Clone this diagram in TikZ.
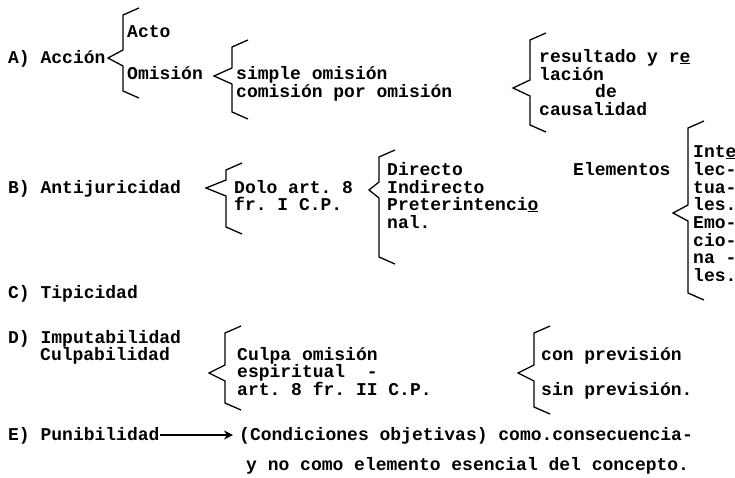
\documentclass[tikz,border=0pt]{standalone}
\usepackage{fontspec}
\setmonofont{Liberation Mono}
\usepackage{tikz}
\usetikzlibrary{arrows.meta}

\tikzset{llave/.style={draw=black, line width=1.3pt, line join=miter}}
% brace: x of the bar, top, bottom, x and y of the point
\newcommand{\llave}[5]{\draw[llave] (#1+16,#2-7) -- (#1,#2) -- (#1,#5-8) -- (#4,#5) -- (#1,#5+8) -- (#1,#3) -- (#1+16,#3+7);}

\begin{document}
\begin{tikzpicture}[x=1pt, y=-1pt]
				\useasboundingbox (0,0) rectangle (735,477);
				\begin{scope}[every node/.style = {anchor=base west, inner sep=0pt,
					font=\ttfamily\bfseries\fontsize{18}{18}\selectfont}]
					\node (accion) at (8,63) {A) Acción};
					\node (acto) at (127,37) {Acto};
					\node (omision) at (127,79) {Omisión};
					\node (simple) at (236,79) {simple omisión};
					\node (comision) at (236,97) {comisión por omisión};
					\node (resultado) at (539,62) {resultado y r\underline{e}};
					\node (relacion) at (539,80) {lación};
					\node (de) at (595,97) {de};
					\node (causalidad) at (539,115) {causalidad};
					\node (anti) at (8,193) {B) Antijuricidad};
					\node (dolo) at (234,193) {Dolo art. 8};
					\node (fr) at (234,210) {fr. I C.P.};
					\node (directo) at (387,175) {Directo};
					\node (indirecto) at (387,193) {Indirecto};
					\node (preter) at (387,210) {Preterintenci\underline{o}};
					\node (nal) at (387,228) {nal.};
					\node (elementos) at (573,175) {Elementos};
					\node (inte) at (693,157) {Int\underline{e}};
					\node (lec) at (693,175) {lec-};
					\node (tua) at (693,193) {tua-};
					\node (les) at (693,210) {les.};
					\node (emo) at (693,228) {Emo-};
					\node (cio) at (693,246) {cio-};
					\node (na) at (693,263) {na -};
					\node (lesb) at (693,281) {les.};
					\node (tipicidad) at (8,298) {C) Tipicidad};
					\node (imput) at (8,343) {D) Imputabilidad};
					\node (culpab) at (40,360) {Culpabilidad};
					\node (culpa) at (237,360) {Culpa omisión};
					\node (espiritual) at (237,377) {espiritual\ \ -};
					\node (art) at (237,395) {art. 8 fr. II C.P.};
					\node (con) at (541,360) {con previsión};
					\node (sin) at (541,395) {sin previsión.};
					\node (puni) at (8,440) {E) Punibilidad};
					\node (cond) at (239,440) {(Condiciones objetivas) como.consecuencia-};
					\node (concepto) at (246,470) {y no como elemento esencial del concepto.};
				\end{scope}
				\llave{123}{15}{91}{108}{58}
				\llave{232}{47}{112}{214}{76}
				\llave{530}{40}{125}{513}{88}
				\llave{226}{170}{227}{206}{188}
				\llave{379}{157}{257}{369}{190}
				\llave{688}{128}{293}{673}{213}
				\llave{225}{333}{403}{209}{373}
				\llave{534}{333}{407}{518}{373}
				\begin{scope}[>={Stealth[black, length=9pt, width=9pt]},
						every edge/.style={draw=black, line width=1.1pt}]
					\path [->] ([yshift=5pt]puni.base east) edge ([xshift=-6pt, yshift=5pt]cond.base west);
				\end{scope}
			\end{tikzpicture}
\end{document}
